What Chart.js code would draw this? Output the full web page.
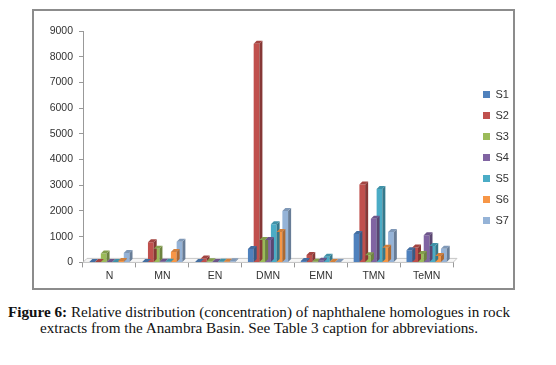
<!DOCTYPE html>
<html>
<head>
<meta charset="utf-8">
<script src="https://cdn.jsdelivr.net/npm/chart.js@4.4.0/dist/chart.umd.min.js"></script>
<style>
  body { margin: 0; background: #fff; width: 556px; height: 365px; position: relative; font-family: "Liberation Serif", serif; }
  #frame { position: absolute; left: 32px; top: 9px; width: 479px; height: 277px; border: 2px solid #8c8c8c; }
  #wrap { position: absolute; left: 0; top: 0; width: 479px; height: 277px; }
  #caption { position: absolute; left: 0; top: 304px; width: 518px; text-align: center; font-size: 15.2px; line-height: 15.5px; color: #111; }
</style>
</head>
<body>
<div id="frame"><div id="wrap"><canvas id="chart"></canvas></div></div>
<div id="caption"><b>Figure 6:</b> Relative distribution (concentration) of naphthalene homologues in rock<br>extracts from the Anambra Basin. See Table 3 caption for abbreviations.</div>
<script>
const categories = ["N", "MN", "EN", "DMN", "EMN", "TMN", "TeMN"];
const seriesNames = ["S1", "S2", "S3", "S4", "S5", "S6", "S7"];
const s1 = [20, 20, 20, 520, 50, 1100, 470];
const s2 = [20, 780, 150, 8500, 290, 3030, 580];
const s3 = [350, 530, 40, 870, 30, 280, 330];
const s4 = [20, 30, 20, 870, 60, 1700, 1060];
const s5 = [20, 30, 30, 1480, 220, 2850, 640];
const s6 = [50, 400, 30, 1180, 20, 570, 250];
const s7 = [370, 800, 40, 2000, 20, 1180, 530];
const colors = ["#4F81BD", "#C0504D", "#9BBB59", "#8064A2", "#4BACC6", "#F79646", "#95B3D7"];
const yTicks = [0, 1000, 2000, 3000, 4000, 5000, 6000, 7000, 8000, 9000];

const allSeries = [s1, s2, s3, s4, s5, s6, s7];

function shade(hex, f) {
  const n = parseInt(hex.slice(1), 16);
  const r = Math.round(((n >> 16) & 255) * f), g = Math.round(((n >> 8) & 255) * f), b = Math.round((n & 255) * f);
  return `rgb(${r},${g},${b})`;
}

// fake 3D: floor, side and top faces drawn from each bar element
const bar3d = {
  id: "bar3d",
  beforeDatasetsDraw(chart) {
    const ctx = chart.ctx, a = chart.chartArea, y0 = chart.scales.y.getPixelForValue(0);
    ctx.save();
    ctx.strokeStyle = "#c8c8c8";
    ctx.fillStyle = "#f6f6f6";
    ctx.beginPath();
    ctx.moveTo(a.left, y0); ctx.lineTo(a.left + 4, y0 - 4); ctx.lineTo(a.right + 4, y0 - 4); ctx.lineTo(a.right, y0);
    ctx.closePath(); ctx.fill(); ctx.stroke();
    ctx.restore();
  },
  afterDatasetsDraw(chart) {
    const ctx = chart.ctx;
    const d = 3;
    chart.data.datasets.forEach((ds, i) => {
      chart.getDatasetMeta(i).data.forEach(el => {
        const x0 = el.x - el.width / 2, x1 = el.x + el.width / 2, top = el.y, base = el.base;
        ctx.fillStyle = shade(colors[i], 0.7);
        ctx.beginPath();
        ctx.moveTo(x1, top); ctx.lineTo(x1 + d, top - d); ctx.lineTo(x1 + d, base - d); ctx.lineTo(x1, base);
        ctx.fill();
        ctx.fillStyle = shade(colors[i], 0.85);
        ctx.beginPath();
        ctx.moveTo(x0, top); ctx.lineTo(x0 + d, top - d); ctx.lineTo(x1 + d, top - d); ctx.lineTo(x1, top);
        ctx.fill();
      });
    });
  }
};

// legend sits a little away from the plot, like the original
const legendShift = {
  id: "legendShift",
  afterLayout(chart) {
    const lg = chart.legend;
    const w = lg.right - lg.left;
    lg.left = 439;
    lg.right = lg.left + w;
  }
};

new Chart(document.getElementById("chart"), {
  type: "bar",
  data: {
    labels: categories,
    datasets: allSeries.map((vals, i) => ({
      label: seriesNames[i],
      data: vals,
      backgroundColor: colors[i],
      borderWidth: 0,
      barPercentage: 1,
      categoryPercentage: 0.76
    }))
  },
  options: {
    responsive: true,
    maintainAspectRatio: false,
    animation: false,
    layout: { padding: { top: 20, right: 14, left: 0, bottom: 4 } },
    plugins: {
      tooltip: { enabled: false },
      legend: {
        position: "right",
        labels: {
          boxWidth: 7, boxHeight: 7, padding: 10,
          color: "#333", font: { family: "Liberation Sans", size: 11 }
        }
      }
    },
    scales: {
      x: {
        grid: { display: true, offset: true, drawOnChartArea: false, tickLength: 5, color: "#999" },
        border: { color: "#999" },
        ticks: { color: "#333", font: { family: "Liberation Sans", size: 10.5 }, padding: 2 }
      },
      y: {
        min: 0, max: 9000,
        afterFit(scale) { scale.width = 49; },
        afterBuildTicks(scale) { scale.ticks = yTicks.map(v => ({ value: v })); },
        grid: { display: true, drawOnChartArea: false, tickLength: 4, color: "#999" },
        border: { color: "#999" },
        ticks: { color: "#333", font: { family: "Liberation Sans", size: 10.5 }, padding: 6, callback: v => String(v) }
      }
    }
  },
  plugins: [bar3d, legendShift]
});
</script>
</body>
</html>
